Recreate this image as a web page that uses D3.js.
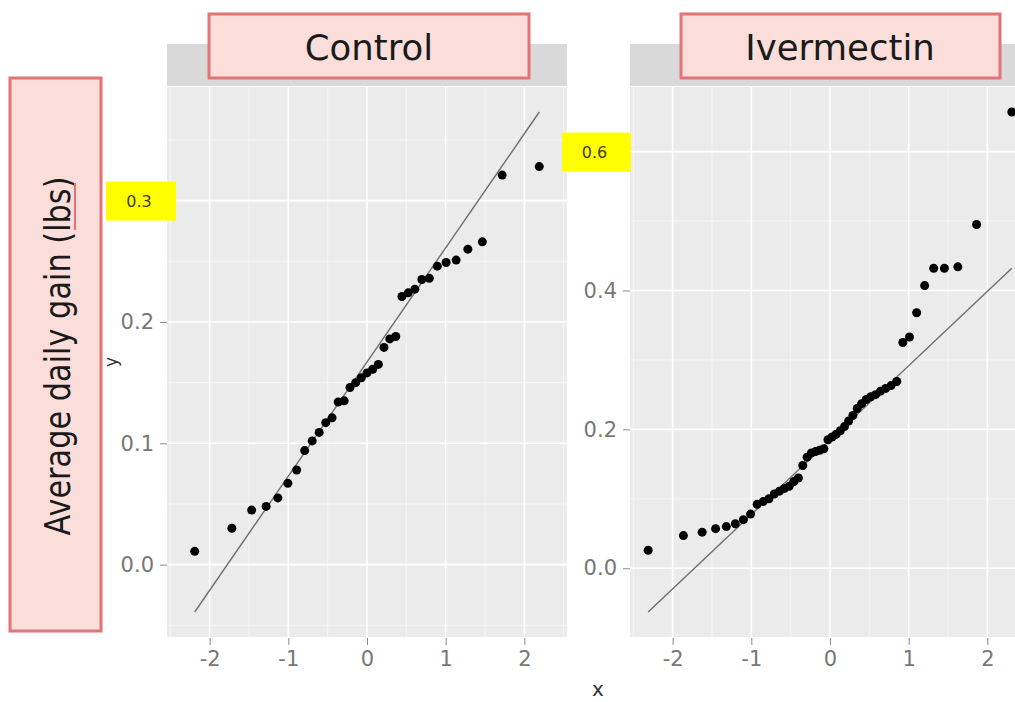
<!DOCTYPE html>
<html>
<head>
<meta charset="utf-8">
<script src="https://cdn.jsdelivr.net/npm/d3@7/dist/d3.min.js"></script>
<style>
  body { margin: 0; background: #fff; }
  text { font-family: "DejaVu Sans", sans-serif; }
</style>
</head>
<body>
<svg id="chart" width="1015" height="702"></svg>
<script>
// facet names
const groups = ["Control", "Ivermectin"];

// Control: theoretical quantile (x) and sorted average daily gain (y)
const controlTheo = [-2.19, -1.718, -1.466, -1.282, -1.133, -1.006, -0.894, -0.792, -0.697, -0.608,
  -0.524, -0.444, -0.366, -0.29, -0.216, -0.144, -0.072, 0, 0.072, 0.144,
  0.216, 0.29, 0.366, 0.444, 0.524, 0.608, 0.697, 0.792, 0.894, 1.006,
  1.133, 1.282, 1.466, 1.718, 2.19];
const controlGain = [0.011, 0.030, 0.045, 0.048, 0.055, 0.067, 0.078, 0.094, 0.102, 0.109,
  0.117, 0.121, 0.134, 0.135, 0.146, 0.150, 0.154, 0.158, 0.161, 0.165,
  0.179, 0.186, 0.188, 0.221, 0.224, 0.227, 0.235, 0.236, 0.246, 0.249,
  0.251, 0.260, 0.266, 0.321, 0.328];

// Ivermectin
const ivermectinTheo = [-2.311, -1.863, -1.625, -1.454, -1.318, -1.203, -1.101, -1.01, -0.926, -0.849,
  -0.776, -0.708, -0.642, -0.579, -0.519, -0.46, -0.402, -0.346, -0.291, -0.237,
  -0.184, -0.131, -0.078, -0.026, 0.026, 0.078, 0.131, 0.184, 0.237, 0.291,
  0.346, 0.402, 0.46, 0.519, 0.579, 0.642, 0.708, 0.776, 0.849, 0.926,
  1.01, 1.101, 1.203, 1.318, 1.454, 1.625, 1.863, 2.311];
const ivermectinGain = [0.026, 0.047, 0.052, 0.057, 0.060, 0.064, 0.070, 0.078, 0.092, 0.096,
  0.100, 0.107, 0.111, 0.115, 0.118, 0.125, 0.130, 0.148, 0.160, 0.166,
  0.168, 0.170, 0.172, 0.185, 0.189, 0.193, 0.198, 0.204, 0.212, 0.220,
  0.230, 0.237, 0.243, 0.247, 0.250, 0.255, 0.259, 0.263, 0.269, 0.325,
  0.333, 0.368, 0.407, 0.432, 0.432, 0.434, 0.495, 0.657];

// reference lines (qq line end points)
const controlLineX = [-2.19, 2.19];
const controlLineY = [-0.039, 0.373];
const ivermectinLineX = [-2.311, 2.311];
const ivermectinLineY = [-0.063, 0.432];

// ticks
const xTicks = [-2, -1, 0, 1, 2];
const controlYTicks = [0, 0.1, 0.2, 0.3];
const ivermectinYTicks = [0, 0.2, 0.4, 0.6];
const highlightTicks = [0.3, 0.6];
const highlightLabels = ["0.3", "0.6"];
const yLabel = "Average daily gain (lbs)";

const svg = d3.select("#chart");

function expand(ext) {
  let pad = (ext[1] - ext[0]) * 0.05;
  return [ext[0] - pad, ext[1] + pad];
}

// minor breaks half way between the majors (ggplot style)
function minors(ticks, domain) {
  let step = ticks[1] - ticks[0];
  let out = [];
  for (let v = ticks[0] - step / 2; v <= ticks[ticks.length - 1] + step; v += step) {
    if (v > domain[0] && v < domain[1]) out.push(v);
  }
  return out;
}

const panels = [
  { name: groups[0], x: controlTheo, y: controlGain, lx: controlLineX, ly: controlLineY, yTicks: controlYTicks, left: 167 },
  { name: groups[1], x: ivermectinTheo, y: ivermectinGain, lx: ivermectinLineX, ly: ivermectinLineY, yTicks: ivermectinYTicks, left: 630 }
];

const panelTop = 87, panelH = 550, panelW = 400;
const allX = d3.merge(panels.map(p => p.x.concat(p.lx)));
const xDomain = expand(d3.extent(allX));

panels.forEach((p, pi) => {
  let yDomain = expand(d3.extent(p.y.concat(p.ly)));
  let x = d3.scaleLinear().domain(xDomain).range([0, panelW]);
  let y = d3.scaleLinear().domain(yDomain).range([panelH, 0]);

  let g = svg.append("g").attr("transform", "translate(" + p.left + "," + panelTop + ")");

  // strip
  g.append("rect").attr("x", 0).attr("y", -43).attr("width", panelW).attr("height", 42).attr("fill", "#d9d9d9");

  g.append("rect").attr("width", panelW).attr("height", panelH).attr("fill", "#ebebeb");

  // grid
  let xMin = minors(xTicks, xDomain), yMin = minors(p.yTicks, yDomain);
  g.selectAll("line.xminor").data(xMin).enter().append("line")
    .attr("x1", d => x(d)).attr("x2", d => x(d)).attr("y1", 0).attr("y2", panelH)
    .attr("stroke", "#f5f5f5").attr("stroke-width", 1);
  g.selectAll("line.yminor").data(yMin).enter().append("line")
    .attr("y1", d => y(d)).attr("y2", d => y(d)).attr("x1", 0).attr("x2", panelW)
    .attr("stroke", "#f5f5f5").attr("stroke-width", 1);
  g.selectAll("line.xmajor").data(xTicks).enter().append("line")
    .attr("x1", d => x(d)).attr("x2", d => x(d)).attr("y1", 0).attr("y2", panelH)
    .attr("stroke", "#fff").attr("stroke-width", 1.6);
  g.selectAll("line.ymajor").data(p.yTicks).enter().append("line")
    .attr("y1", d => y(d)).attr("y2", d => y(d)).attr("x1", 0).attr("x2", panelW)
    .attr("stroke", "#fff").attr("stroke-width", 1.6);

  // axes (the highlighted tick label is drawn in the yellow box instead)
  let yAxis = g.append("g").call(d3.axisLeft(y).tickValues(p.yTicks).tickSize(7).tickPadding(6)
    .tickFormat(d => d === highlightTicks[pi] ? "" : d3.format(".1f")(d)));
  let xAxis = g.append("g").attr("transform", "translate(0," + (panelH + 1) + ")")
    .call(d3.axisBottom(x).tickValues(xTicks).tickSize(7).tickPadding(6).tickFormat(d => String(d)));
  [yAxis, xAxis].forEach((a) => {
    a.select(".domain").remove();
    a.selectAll(".tick line").attr("stroke", "#8a8a8a");
    a.selectAll(".tick text").attr("fill", "#777").style("font-size", "21px");
  });
  yAxis.selectAll(".tick text").filter(function () { return this.textContent === ""; }).remove();

  // qq line
  let line = d3.line().x(d => x(d[0])).y(d => y(d[1]));
  g.append("path").datum(d3.zip(p.lx, p.ly)).attr("d", line)
    .attr("fill", "none").attr("stroke", "#6e6e6e").attr("stroke-width", 1.4);

  g.selectAll("circle").data(d3.zip(p.x, p.y)).enter().append("circle")
    .attr("cx", d => x(d[0])).attr("cy", d => y(d[1])).attr("r", 4.5).attr("fill", "#000");

  p.ys = y;
});

// axis titles
svg.append("text").attr("x", 598).attr("y", 696).attr("text-anchor", "middle")
  .style("font-size", "20px").attr("fill", "#333").text("x");
svg.append("text").attr("transform", "translate(117,362) rotate(-90)").attr("text-anchor", "middle")
  .style("font-size", "17px").attr("fill", "#333").text("y");

// red label boxes
function redBox(x0, y0, w, h) {
  svg.append("rect").attr("x", x0).attr("y", y0).attr("width", w).attr("height", h)
    .attr("fill", "#fbdeda").attr("stroke", "#e27377").attr("stroke-width", 3);
}
redBox(10, 78, 91, 553);
svg.append("text").attr("transform", "translate(70,356) rotate(-90)").attr("text-anchor", "middle")
  .attr("textLength", 359).attr("lengthAdjust", "spacingAndGlyphs")
  .style("font-size", "35px").attr("fill", "#1a1a1a").text(yLabel);
// spell-check squiggle under "lbs"
svg.append("line").attr("x1", 75).attr("x2", 75).attr("y1", 183).attr("y2", 230)
  .attr("stroke", "#ee6f6f").attr("stroke-width", 2);

redBox(209, 14, 320, 64);
redBox(681, 14, 319, 64);
[[panels[0], 369], [panels[1], 840]].forEach(([p, cx]) => {
  svg.append("text").attr("x", cx).attr("y", 60).attr("text-anchor", "middle")
    .style("font-size", "35.5px").attr("fill", "#1a1a1a").text(p.name);
});

// yellow highlights over the 0.3 and 0.6 tick positions
[[panels[0], 106, 70], [panels[1], 562, 69]].forEach(([p, bx, bw], i) => {
  let cy = panelTop + p.ys(highlightTicks[i]);
  svg.append("rect").attr("x", bx).attr("y", cy - 19).attr("width", bw).attr("height", 39).attr("fill", "#ffff00");
  svg.append("text").attr("x", bx + bw / 2 - 2).attr("y", cy + 6).attr("text-anchor", "middle")
    .style("font-size", "16px").attr("fill", "#3d3d00").text(highlightLabels[i]);
});
</script>
</body>
</html>
